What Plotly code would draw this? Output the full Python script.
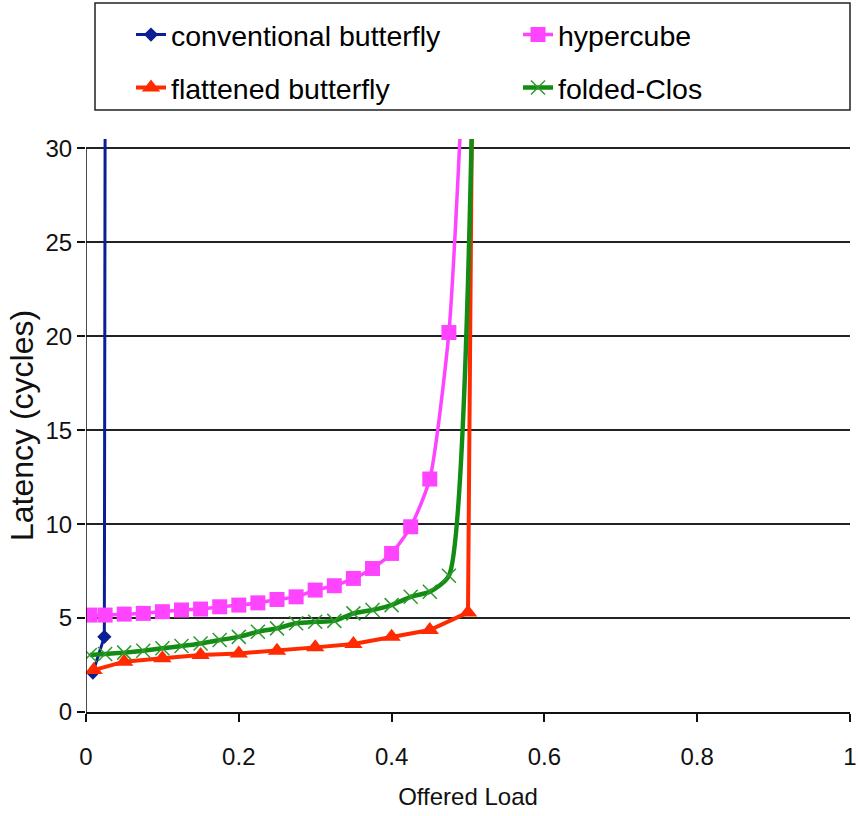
import plotly.graph_objects as go

# ---- data ----
conv_x = [0.009, 0.024, 0.025]
conv_y = [2.1, 4.0, 31.0]

hyper_x = [0.005, 0.025, 0.05, 0.075, 0.1, 0.125, 0.15, 0.175, 0.2, 0.225, 0.25,
           0.275, 0.3, 0.325, 0.35, 0.375, 0.4, 0.425, 0.45, 0.475, 0.49]
hyper_y = [5.16, 5.16, 5.21, 5.25, 5.34, 5.43, 5.48, 5.6, 5.69, 5.81, 5.99,
           6.13, 6.49, 6.72, 7.11, 7.64, 8.44, 9.86, 12.4, 20.2, 31.0]

flat_x = [0.01, 0.05, 0.1, 0.15, 0.2, 0.25, 0.3, 0.35, 0.4, 0.45, 0.5, 0.505]
flat_y = [2.23, 2.68, 2.86, 3.03, 3.12, 3.26, 3.44, 3.62, 4.0, 4.36, 5.3, 31.0]

clos_x = [0.005, 0.025, 0.05, 0.075, 0.1, 0.125, 0.15, 0.175, 0.2, 0.225, 0.25,
          0.275, 0.3, 0.325, 0.35, 0.375, 0.4, 0.425, 0.45, 0.475, 0.505]
clos_y = [3.03, 3.09, 3.16, 3.26, 3.39, 3.51, 3.65, 3.83, 4.0, 4.27, 4.45,
          4.72, 4.8, 4.85, 5.25, 5.43, 5.69, 6.13, 6.4, 7.25, 31.0]

x_ticks = [0, 0.2, 0.4, 0.6, 0.8, 1]
x_tick_text = ["0", "0.2", "0.4", "0.6", "0.8", "1"]
y_ticks = [0, 5, 10, 15, 20, 25, 30]

REG = "Liberation Sans, Arial, sans-serif"

fig = go.Figure()

fig.add_trace(go.Scatter(
    x=conv_x, y=conv_y, name="conventional butterfly", mode="lines+markers",
    line=dict(color="#0A1E96", width=3),
    marker=dict(symbol="diamond", size=11, color="#0A1E96"),
    legend="legend"))
fig.add_trace(go.Scatter(
    x=hyper_x, y=hyper_y, name="hypercube", mode="lines+markers",
    line=dict(color="#FF44FF", width=3.5, shape="spline", smoothing=0.6),
    marker=dict(symbol="square", size=15, color="#FF44FF"),
    legend="legend2"))
fig.add_trace(go.Scatter(
    x=flat_x, y=flat_y, name="flattened butterfly", mode="lines+markers",
    line=dict(color="#FF2A00", width=4),
    marker=dict(symbol="triangle-up", size=16, color="#FF2A00"),
    legend="legend3"))
fig.add_trace(go.Scatter(
    x=clos_x, y=clos_y, name="folded-Clos", mode="lines+markers",
    line=dict(color="#128C12", width=4.5, shape="spline", smoothing=0.6),
    marker=dict(symbol="x-thin", size=14, color="#128C12",
                line=dict(color="#2E9A2E", width=1.5)),
    legend="legend4"))

# plot area sits at page x 86..850, y 139..712 (body margin removed below)
W, HF = 858, 816
L, R, T, B = 86, 8, 139, 104
PH = HF - T - B
PW = W - L - R

def py(p):
    return (712 - p) / PH

def px(p):
    return (p - 86) / PW

leg_common = dict(font=dict(family=REG, size=28.5, color="black"),
                  bgcolor="rgba(0,0,0,0)", borderwidth=0,
                  xanchor="left", yanchor="middle", orientation="h")

fig.update_layout(
    width=W, height=HF,
    margin=dict(l=L, r=R, t=T, b=B, autoexpand=False),
    paper_bgcolor="white", plot_bgcolor="white",
    showlegend=True,
    legend=dict(x=px(131), y=py(35), **leg_common),
    legend2=dict(x=px(518), y=py(35), **leg_common),
    legend3=dict(x=px(131), y=py(88), **leg_common),
    legend4=dict(x=px(518), y=py(88), **leg_common),
    xaxis=dict(range=[0, 1], tickvals=x_ticks, ticktext=x_tick_text,
               showgrid=False, zeroline=False, showline=True,
               linecolor="#111", linewidth=1.5, automargin=False,
               ticks="outside", ticklen=8, tickcolor="#111", tickwidth=1.5,
               ticklabelstandoff=14,
               tickfont=dict(family=REG, size=24, color="#111"),
               title=dict(text="Offered Load", standoff=20,
                          font=dict(family=REG, size=24, color="#111"))),
    yaxis=dict(range=[0, 30.5], tickvals=y_ticks, automargin=False,
               showgrid=True, gridcolor="#222", gridwidth=1.5,
               zeroline=False, showline=False,
               ticks="outside", ticklen=8, tickcolor="#111", tickwidth=1.5,
               tickfont=dict(family=REG, size=24, color="#111"),
               title=dict(text="Latency (cycles)", standoff=2,
                          font=dict(family=REG, size=32, color="#111"))),
    shapes=[
        dict(type="line", xref="x", yref="y", x0=0, x1=0, y0=0, y1=30,
             line=dict(color="#111", width=1.5), layer="above"),
        dict(type="rect", xref="paper", yref="paper",
             x0=px(95), x1=px(850), y0=py(110), y1=py(3),
             line=dict(color="#222", width=1.5)),
    ],
)

fig.write_html("out.html", config={"displayModeBar": False},
               post_script="document.body.style.margin='0';document.body.style.padding='0';")
